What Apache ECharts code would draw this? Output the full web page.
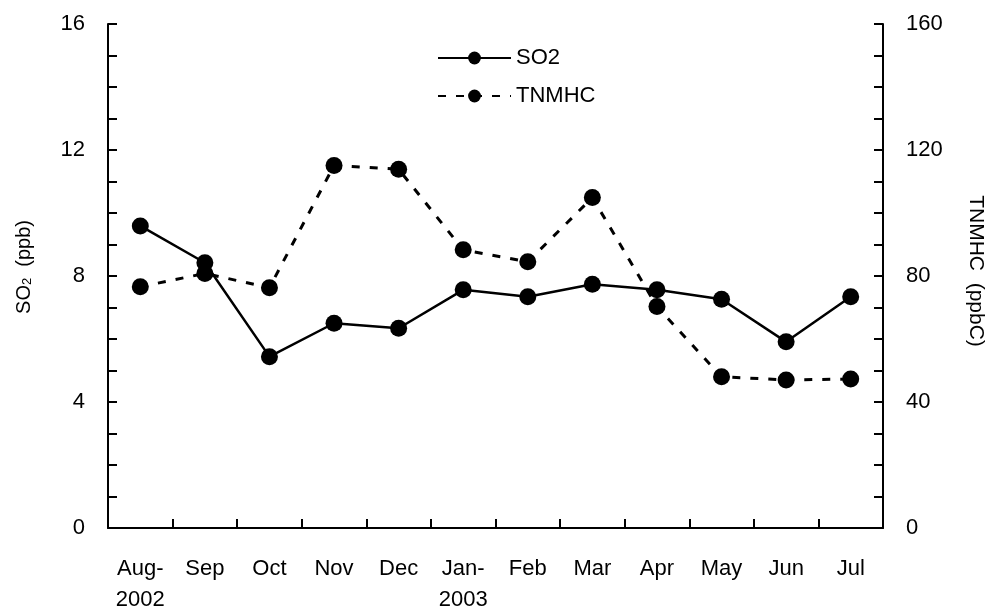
<!DOCTYPE html>
<html>
<head>
<meta charset="utf-8">
<script src="https://cdn.jsdelivr.net/npm/echarts@6/dist/echarts.min.js"></script>
<style>
  html, body { margin: 0; padding: 0; background: #fff; }
  #main { width: 988px; height: 607px; }
</style>
</head>
<body>
<div id="main"></div>
<script>
// month labels (two-line where the year is shown)
const months = ['Aug-\n2002', 'Sep', 'Oct', 'Nov', 'Dec', 'Jan-\n2003', 'Feb', 'Mar', 'Apr', 'May', 'Jun', 'Jul'];
// SO2, ppb (left axis)
const so2 = [9.59, 8.42, 5.44, 6.50, 6.34, 7.56, 7.34, 7.74, 7.56, 7.26, 5.91, 7.34];
// TNMHC, ppbC (right axis)
const tnmhc = [76.6, 80.8, 76.3, 115.1, 113.9, 88.3, 84.5, 104.9, 70.3, 48.0, 47.0, 47.3];

const font = 'Arial, "Liberation Sans", sans-serif';
const ink = '#000';

const chart = echarts.init(document.getElementById('main'));

chart.setOption({
    animation: false,
    backgroundColor: '#fff',
    textStyle: { fontFamily: font, color: ink },
    grid: [
        { left: 108, right: 105, top: 24, bottom: 79, outerBoundsMode: 'none', containLabel: false },
        // thin strip above the x axis, only used for the upper half of the ticks
        { left: 108, right: 105, top: 519, height: 9, outerBoundsMode: 'none', containLabel: false }
    ],
    legend: {
        orient: 'vertical',
        left: 432,
        top: 42,
        itemWidth: 73,
        itemHeight: 16,
        itemGap: 16,
        textStyle: { fontFamily: font, fontSize: 22, color: ink },
        data: ['SO2', 'TNMHC']
    },
    xAxis: [
        {
            type: 'category',
            position: 'bottom',
            data: months,
            axisLine: { lineStyle: { color: ink, width: 2 } },
            axisTick: { length: 9, lineStyle: { color: ink, width: 2 } },
            axisLabel: {
                color: ink, fontSize: 22, fontFamily: font,
                margin: 25, lineHeight: 31, interval: 0
            }
        },
        {
            gridIndex: 1,
            type: 'category',
            data: months,
            axisLine: { show: false },
            axisTick: { show: false },
            axisLabel: { show: false },
            splitLine: { show: true, interval: 0, lineStyle: { color: ink, width: 2 } }
        }
    ],
    yAxis: [
        {
            type: 'value',
            min: 0, max: 16, interval: 4,
            position: 'left',
            name: '{a|SO}{s|2}{a|  (ppb)}',
            nameLocation: 'middle',
            nameRotate: 90,
            nameGap: 74,
            nameTextStyle: {
                padding: [0, 0, 0, 18],
                rich: {
                    a: { fontSize: 20, fontFamily: font, color: ink },
                    s: { fontSize: 13, fontFamily: font, color: ink, verticalAlign: 'bottom', padding: [7, 0, 0, 0] }
                }
            },
            axisLine: { show: true, lineStyle: { color: ink, width: 2 } },
            axisTick: { show: true, inside: true, length: 9, lineStyle: { color: ink, width: 2 } },
            minorTick: { show: true, splitNumber: 4, length: 9, lineStyle: { color: ink, width: 2 } },
            axisLabel: { color: ink, fontSize: 22, fontFamily: font, margin: 23 },
            splitLine: { show: false }
        },
        {
            type: 'value',
            min: 0, max: 160, interval: 40,
            position: 'right',
            name: 'TNMHC  (ppbC)',
            nameLocation: 'middle',
            nameRotate: -90,
            nameGap: 82,
            nameTextStyle: { fontSize: 21, fontFamily: font, color: ink, padding: [0, 10, 0, 0] },
            axisLine: { show: true, lineStyle: { color: ink, width: 2 } },
            axisTick: { show: true, inside: true, length: 9, lineStyle: { color: ink, width: 2 } },
            minorTick: { show: true, splitNumber: 4, length: 9, lineStyle: { color: ink, width: 2 } },
            axisLabel: { color: ink, fontSize: 22, fontFamily: font, margin: 23 },
            splitLine: { show: false }
        },
        {
            gridIndex: 1,
            type: 'value',
            show: false
        }
    ],
    series: [
        {
            name: 'SO2',
            type: 'line',
            yAxisIndex: 0,
            data: so2,
            symbol: 'circle',
            symbolSize: 17,
            itemStyle: { color: ink },
            lineStyle: { color: ink, width: 2.5, type: 'solid' },
            z: 3
        },
        {
            name: 'TNMHC',
            type: 'line',
            yAxisIndex: 1,
            data: tnmhc,
            symbol: 'circle',
            symbolSize: 17,
            itemStyle: { color: ink },
            lineStyle: { color: ink, width: 3, type: [8, 10] },
            z: 2
        }
    ]
});
</script>
</body>
</html>
